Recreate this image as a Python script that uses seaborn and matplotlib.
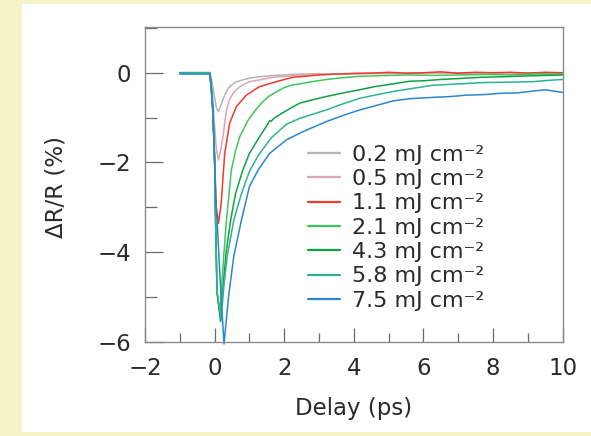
import matplotlib
matplotlib.use("Agg")
import matplotlib.pyplot as plt
import matplotlib.patches as mpatches
from matplotlib.ticker import MultipleLocator
import numpy as np
import pandas as pd
import seaborn as sns

# ---------------- data ----------------
labels = ["0.2 mJ cm\u207b\u00b2", "0.5 mJ cm\u207b\u00b2", "1.1 mJ cm\u207b\u00b2",
          "2.1 mJ cm\u207b\u00b2", "4.3 mJ cm\u207b\u00b2", "5.8 mJ cm\u207b\u00b2",
          "7.5 mJ cm\u207b\u00b2"]
colors = ["#b4b4b4", "#dca4b4", "#ee3b2d", "#3fc65e", "#12a046", "#2db391", "#2a87cf"]

x_02 = [-1.0, -0.5, -0.14, -0.1, -0.05, 0.0, 0.05, 0.11, 0.17, 0.24, 0.33, 0.43, 0.6, 0.81, 1.0, 1.29,
        1.7, 2.0, 2.44, 3.0, 3.5, 4.0, 5.0, 6.0, 7.0, 8.0, 9.0, 10.0]
y_02 = [0.0, 0.0, 0.0, -0.1, -0.3, -0.55, -0.78, -0.87, -0.74, -0.6, -0.43, -0.31, -0.21, -0.16, -0.12,
        -0.09, -0.06, -0.05, -0.03, -0.02, -0.03, -0.01, -0.01, -0.01, 0.0, -0.01, 0.0, -0.01]

x_05 = [-1.0, -0.5, -0.14, -0.1, -0.05, 0.0, 0.05, 0.11, 0.17, 0.24, 0.34, 0.43, 0.53, 0.65, 0.81, 1.0,
        1.29, 1.7, 2.0, 2.44, 3.0, 3.5, 4.0, 5.0, 6.0, 7.0, 8.0, 9.0, 10.0]
y_05 = [0.0, 0.0, 0.0, -0.2, -0.6, -1.2, -1.7, -1.95, -1.75, -1.43, -0.83, -0.6, -0.46, -0.36, -0.27, -0.2,
        -0.16, -0.1, -0.08, -0.06, -0.04, -0.03, -0.02, -0.02, -0.01, -0.01, 0.0, -0.01, 0.0]

x_11 = [-1.0, -0.5, -0.14, -0.1, -0.05, 0.0, 0.05, 0.11, 0.19, 0.29, 0.43, 0.62, 0.91, 1.29, 1.77, 2.25,
        2.44, 3.0, 3.5, 4.0, 4.5, 5.0, 5.5, 6.0, 6.5, 7.0, 7.5, 8.0, 8.5, 9.0, 9.5, 10.0]
y_11 = [0.0, 0.0, 0.0, -0.3, -0.85, -1.95, -3.0, -3.36, -2.9, -1.8, -1.13, -0.76, -0.5, -0.31, -0.2, -0.1,
        -0.09, -0.05, -0.03, -0.02, -0.01, 0.01, -0.01, 0.0, 0.02, -0.01, 0.01, 0.0, 0.01, -0.01, 0.01, 0.0]

x_21 = [-1.0, -0.5, -0.14, -0.1, -0.05, 0.0, 0.03, 0.07, 0.15, 0.2, 0.26, 0.34, 0.48, 0.6, 0.72, 0.96,
        1.15, 1.34, 1.55, 1.77, 2.0, 2.25, 2.44, 2.8, 3.21, 3.7, 4.17, 5.0, 5.6, 6.3, 7.0, 7.8, 8.5, 9.2, 10.0]
y_21 = [0.0, 0.0, 0.0, -0.3, -0.85, -1.95, -3.4, -4.9, -5.35, -4.8, -4.1, -3.29, -2.17, -1.75, -1.43, -1.06,
        -0.86, -0.68, -0.53, -0.43, -0.33, -0.27, -0.25, -0.2, -0.15, -0.11, -0.08, -0.06, -0.05, -0.06, -0.05,
        -0.04, -0.05, -0.03, -0.03]

x_43 = [-1.0, -0.5, -0.14, -0.1, -0.05, 0.0, 0.03, 0.07, 0.17, 0.24, 0.33, 0.46, 0.6, 0.81, 1.0, 1.29,
        1.5, 1.58, 1.63, 1.7, 1.9, 2.16, 2.44, 2.73, 3.21, 3.7, 4.17, 4.6, 5.12, 5.6, 6.0, 6.5, 7.0, 7.7,
        8.3, 9.0, 9.5, 10.0]
y_43 = [0.0, 0.0, 0.0, -0.3, -0.85, -1.95, -3.4, -4.9, -5.55, -4.8, -4.0, -3.29, -2.7, -2.17, -1.8, -1.43,
        -1.18, -1.07, -1.08, -1.02, -0.92, -0.8, -0.68, -0.62, -0.53, -0.45, -0.38, -0.31, -0.25, -0.19,
        -0.18, -0.15, -0.13, -0.1, -0.09, -0.07, -0.06, -0.05]

x_58 = [-1.0, -0.5, -0.14, -0.1, -0.05, 0.0, 0.03, 0.07, 0.19, 0.26, 0.36, 0.55, 0.75, 0.86, 1.0, 1.25,
        1.63, 2.06, 2.44, 2.8, 3.21, 3.7, 4.17, 4.6, 5.12, 5.6, 6.27, 7.0, 7.7, 8.5, 9.14, 9.6, 10.0]
y_58 = [0.0, 0.0, 0.0, -0.3, -0.85, -1.95, -3.4, -4.9, -5.5, -4.8, -4.1, -3.29, -2.75, -2.5, -2.2, -1.85,
        -1.45, -1.15, -1.02, -0.93, -0.83, -0.69, -0.57, -0.5, -0.42, -0.36, -0.28, -0.25, -0.22, -0.21,
        -0.2, -0.17, -0.15]

x_75 = [-1.0, -0.5, -0.14, -0.1, -0.05, 0.0, 0.03, 0.07, 0.17, 0.27, 0.4, 0.55, 0.77, 1.0, 1.25, 1.58,
        2.06, 2.44, 2.73, 3.21, 3.7, 4.17, 4.6, 5.12, 5.6, 6.27, 6.8, 7.23, 7.7, 8.19, 8.7, 9.14, 9.5, 10.0]
y_75 = [-0.03, -0.03, -0.03, -0.3, -0.85, -1.95, -2.9, -3.29, -4.78, -6.05, -5.0, -4.1, -3.29, -2.54, -2.17,
        -1.8, -1.5, -1.35, -1.25, -1.09, -0.95, -0.83, -0.74, -0.63, -0.58, -0.55, -0.53, -0.5, -0.49,
        -0.46, -0.45, -0.41, -0.38, -0.44]

series_x = [x_02, x_05, x_11, x_21, x_43, x_58, x_75]
series_y = [y_02, y_05, y_11, y_21, y_43, y_58, y_75]

frames = []
for lab, xs, ys in zip(labels, series_x, series_y):
    frames.append(pd.DataFrame({"Delay": xs, "dRR": ys, "Fluence": lab}))
df = pd.concat(frames, ignore_index=True)

# ---------------- style ----------------
sns.set_style("ticks")
plt.rcParams["font.family"] = ["DejaVu Sans"]

W, H = 591, 436
fig = plt.figure(figsize=(W / 100, H / 100), dpi=100)
fig.patch.set_facecolor("#f6f3c8")
fig.patches.append(mpatches.Rectangle((22 / W, 4 / H), 1 - 22 / W, 428 / H,
                                      transform=fig.transFigure, facecolor="white",
                                      edgecolor="none", zorder=-10))

ax_l, ax_r, ax_t, ax_b = 145, 562.7, 27, 341.7
ax = fig.add_axes([ax_l / W, (H - ax_b) / H, (ax_r - ax_l) / W, (ax_b - ax_t) / H])
ax.set_facecolor("white")

palette = dict(zip(labels, colors))
sns.lineplot(data=df, x="Delay", y="dRR", hue="Fluence", palette=palette,
             estimator=None, sort=False, linewidth=1.1, ax=ax, legend=True)

ax.set_xlim(-2, 10)
ax.set_ylim(-6, 1.02)
ax.xaxis.set_minor_locator(MultipleLocator(1))
ax.yaxis.set_minor_locator(MultipleLocator(1))
ax.set_xticks([-2, 0, 2, 4, 6, 8, 10])
ax.set_xticklabels(["\u22122", "0", "2", "4", "6", "8", "10"])
ax.set_yticks([0, -2, -4, -6])
ax.set_yticklabels(["0", "\u22122", "\u22124", "\u22126"])

for s in ax.spines.values():
    s.set_color("#8a8a8a")
    s.set_linewidth(1.0)
ax.tick_params(axis="both", which="both", direction="in", color="#6a6a6a", width=0.9,
               labelcolor="#2a2a2a", labelsize=16.5, top=False, right=False)
ax.tick_params(axis="y", which="major", length=13, pad=10)
ax.tick_params(axis="y", which="minor", length=8.6)
ax.tick_params(axis="x", which="major", length=10, pad=11)
ax.tick_params(axis="x", which="minor", length=6.5)

ax.set_xlabel("Delay (ps)", fontsize=16.5, color="#2a2a2a")
ax.set_ylabel("\u0394R/R (%)", fontsize=16.5, color="#2a2a2a")
ax.xaxis.set_label_coords(0.5, -0.175)
ax.yaxis.set_label_coords(-0.186, 0.49)

lines = ax.get_lines()
lines[len(labels) - 1].set_clip_on(False)

handles, labs = ax.get_legend_handles_labels()
leg = ax.legend(handles, labs, loc="upper left", bbox_to_anchor=(0.39, 0.626),
                frameon=False, fontsize=16, labelspacing=0.195, handlelength=1.45,
                handletextpad=0.55, borderpad=0, borderaxespad=0)
for t in leg.get_texts():
    t.set_color("#2a2a2a")
for h in leg.get_lines():
    h.set_linewidth(1.6)

fig.savefig("out.png", dpi=100, facecolor=fig.get_facecolor())
